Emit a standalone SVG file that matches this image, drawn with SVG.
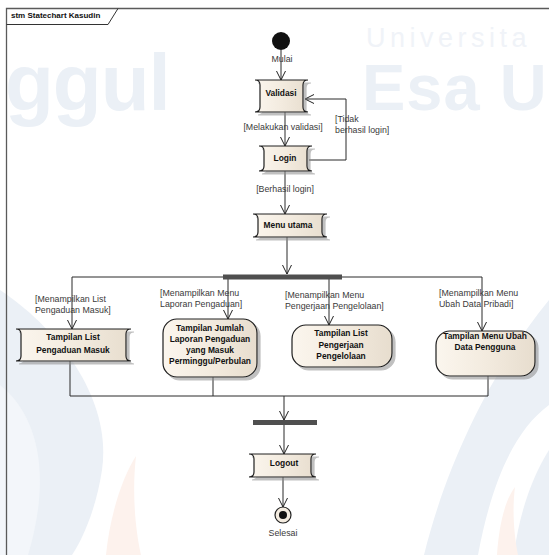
<svg xmlns="http://www.w3.org/2000/svg" width="549" height="555" viewBox="0 0 549 555">
  <defs>
    <linearGradient id="stateFill" x1="0" y1="0" x2="1" y2="0">
      <stop offset="0" stop-color="#fbf6ee"/>
      <stop offset="0.5" stop-color="#f3ebdf"/>
      <stop offset="1" stop-color="#e7ddce"/>
    </linearGradient>
    <filter id="shade" x="-10%" y="-10%" width="125%" height="130%">
      <feDropShadow dx="3" dy="3" stdDeviation="0.6" flood-color="#8c8c8c" flood-opacity="0.55"/>
    </filter>
    <marker id="open" viewBox="0 0 10 10" refX="9.5" refY="5" markerWidth="10" markerHeight="10" markerUnits="userSpaceOnUse" orient="auto">
      <path d="M0.5,0.5 L9.5,5 L0.5,9.5" fill="none" stroke="#222" stroke-width="1"/>
    </marker>
  </defs>
  <style>
    .wm { font-family: "Liberation Sans", Arial, sans-serif; }
    .state { fill: url(#stateFill); stroke: #1e1e1e; stroke-width: 1.2; filter: url(#shade); }
    .name { font-family: "Liberation Sans", Arial, sans-serif; font-size: 8.4px; font-weight: bold; fill: #111; text-anchor: middle; }
    .lbl { font-family: "Liberation Sans", Arial, sans-serif; font-size: 8.8px; fill: #3a3a3a; }
    .mid { text-anchor: middle; }
    .edge { fill: none; stroke: #2b2b2b; stroke-width: 1; }
    .arrow { marker-end: url(#open); }
    .bar { fill: #4f4f4f; }
  </style>

  <rect width="549" height="555" fill="#ffffff"/>

  <!-- faint background emblem -->
  <g id="watermark">
    <path d="M0,290 C60,330 112,400 102,470 C96,510 82,540 72,555 L0,555 Z" fill="#ebf0f6"/>
    <path d="M0,385 C38,415 52,475 28,555 L0,555 Z" fill="#f3f6fa"/>
    <path d="M106,555 C110,515 122,478 136,456 C132,492 135,528 141,555 Z" fill="#fdf2ed"/>
    <path d="M549,300 C500,360 450,450 424,555 L478,555 C492,480 515,430 549,405 Z" fill="#ebf0f6"/>
    <path d="M549,450 C530,480 518,520 514,555 L549,555 Z" fill="#ebf0f6"/>
    <path d="M497,555 C499,525 505,500 515,487 C512,510 514,535 518,555 Z" fill="#fdf2ed"/>
    <text class="wm" x="366" y="47" font-size="27" letter-spacing="4.5" fill="#f0f3f8">Universita</text>
    <text class="wm" x="362" y="110" font-size="65" font-weight="bold" letter-spacing="1" fill="#ebf0f6">Esa U</text>
    <text class="wm" x="5" y="110" font-size="80" font-weight="bold" letter-spacing="-1" fill="#ebf0f6">ggul</text>
  </g>

  <!-- diagram frame -->
  <g id="frame">
    <path d="M6.5,555 L6.5,8.5 L549,8.5" fill="none" stroke="#5a5a5a" stroke-width="1.3"/>
    <path d="M6.5,24.5 L108,24.5 L118,8.5" fill="none" stroke="#333" stroke-width="1"/>
    <text x="11" y="18" font-family="Liberation Sans, Arial, sans-serif" font-size="8px" font-weight="bold" fill="#111">stm Statechart Kasudin</text>
  </g>

  <!-- transitions -->
  <g id="connectors">
    <path class="edge arrow" d="M281,50 L281,80"/>
    <path class="edge arrow" d="M285,112 L285,146"/>
    <path class="edge arrow" d="M309,160 L346,160 L346,99 L305,99"/>
    <path class="edge arrow" d="M285,171 L285,214"/>
    <path class="edge arrow" d="M287,237 L287,274" stroke="#555"/>
    <path class="edge arrow" d="M223,277 L72,277 L72,329"/>
    <path class="edge arrow" d="M228,279 L228,319"/>
    <path class="edge arrow" d="M329,279 L329,325"/>
    <path class="edge arrow" d="M342,277 L482,277 L482,331"/>
    <path class="edge" d="M70,361 L70,396 L488,396 L488,376"/>
    <path class="edge" d="M213,377 L213,396"/>
    <path class="edge arrow" d="M284,396 L284,420"/>
    <path class="edge arrow" d="M284,425 L284,454"/>
    <path class="edge arrow" d="M283,477 L283,507"/>

    <text class="lbl mid" x="282" y="62">Mulai</text>
    <text class="lbl mid" x="283" y="130">[Melakukan validasi]</text>
    <text class="lbl" x="335" y="122">[Tidak</text>
    <text class="lbl" x="335" y="133">berhasil login]</text>
    <text class="lbl mid" x="285" y="192">[Berhasil login]</text>
    <text class="lbl" x="35" y="302">[Menampilkan List</text>
    <text class="lbl" x="35" y="313">Pengaduan Masuk]</text>
    <text class="lbl" x="160" y="296">[Menampilkan Menu</text>
    <text class="lbl" x="160" y="307">Laporan Pengaduan]</text>
    <text class="lbl" x="285" y="298">[Menampilkan Menu</text>
    <text class="lbl" x="285" y="309">Pengerjaan Pengelolaan]</text>
    <text class="lbl" x="439" y="296">[Menampilkan Menu</text>
    <text class="lbl" x="439" y="307">Ubah Data Pribadi]</text>
    <text class="lbl mid" x="283" y="536">Selesai</text>
  </g>

  <g id="start">
    <circle cx="281" cy="41" r="9" fill="#111"/>
  </g>

  <g id="validasi">
    <path class="state" d="M255,80 L308,80 Q303,80 303,85 L303,107 Q303,112 308,112 L255,112 Q260,112 260,107 L260,85 Q260,80 255,80 Z"/>
    <text class="name" x="281" y="96">Validasi</text>
  </g>

  <g id="login">
    <path class="state" d="M259,146 L312,146 Q307,146 307,151 L307,166 Q307,171 312,171 L259,171 Q264,171 264,166 L264,151 Q264,146 259,146 Z"/>
    <text class="name" x="285" y="161">Login</text>
  </g>

  <g id="menu-utama">
    <path class="state" d="M253,214 L327,214 Q322,214 322,219 L322,232 Q322,237 327,237 L253,237 Q258,237 258,232 L258,219 Q258,214 253,214 Z"/>
    <text class="name" x="288" y="228">Menu utama</text>
  </g>

  <g id="fork">
    <rect class="bar" x="223" y="274.5" width="119" height="5"/>
  </g>

  <g id="list-pengaduan">
    <path class="state" d="M16,329 L131,329 Q126,329 126,334 L126,356 Q126,361 131,361 L16,361 Q21,361 21,356 L21,334 Q21,329 16,329 Z"/>
    <text class="name" x="73" y="340">Tampilan List</text>
    <text class="name" x="73" y="353">Pengaduan Masuk</text>
  </g>

  <g id="jumlah-laporan">
    <rect class="state" x="163" y="319" width="94" height="58" rx="14" ry="14"/>
    <text class="name" x="210" y="330.5">Tampilan Jumlah</text>
    <text class="name" x="210" y="342">Laporan Pengaduan</text>
    <text class="name" x="210" y="353">yang Masuk</text>
    <text class="name" x="210" y="364">Perminggu/Perbulan</text>
  </g>

  <g id="list-pengerjaan">
    <rect class="state" x="292" y="325" width="100" height="42" rx="14" ry="14"/>
    <text class="name" x="341" y="336">Tampilan List</text>
    <text class="name" x="341" y="348">Pengerjaan</text>
    <text class="name" x="341" y="359">Pengelolaan</text>
  </g>

  <g id="ubah-data">
    <rect class="state" x="436" y="331" width="99" height="45" rx="14" ry="14"/>
    <text class="name" x="485" y="339">Tampilan Menu Ubah</text>
    <text class="name" x="485" y="350">Data Pengguna</text>
  </g>

  <g id="join">
    <rect class="bar" x="253" y="420" width="64" height="5"/>
  </g>

  <g id="logout">
    <path class="state" d="M249,454 L316,454 Q311,454 311,459 L311,472 Q311,477 316,477 L249,477 Q254,477 254,472 L254,459 Q254,454 249,454 Z"/>
    <text class="name" x="284" y="466">Logout</text>
  </g>

  <g id="selesai">
    <circle cx="283" cy="515" r="8" fill="#f4ece0" stroke="#222" stroke-width="1.2"/>
    <circle cx="283" cy="515" r="4" fill="#111"/>
  </g>
</svg>
